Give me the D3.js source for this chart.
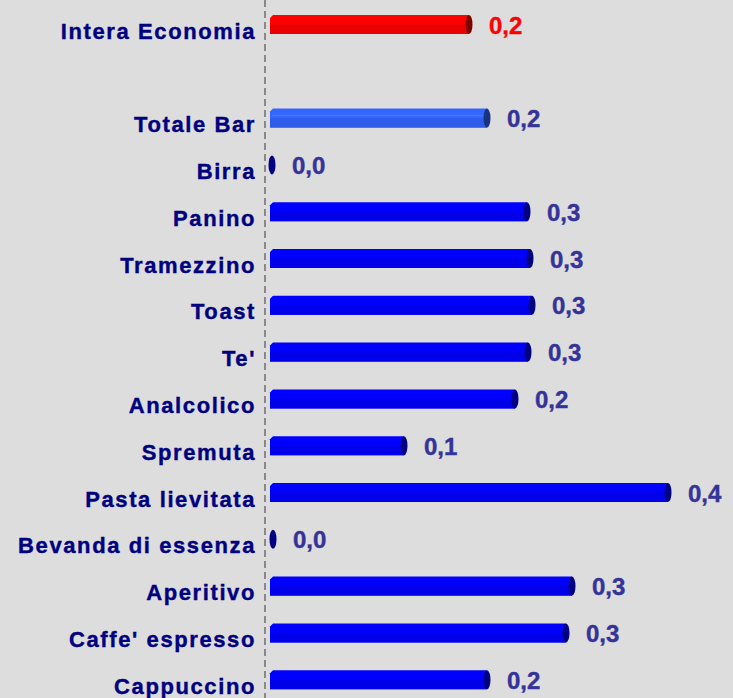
<!DOCTYPE html>
<html>
<head>
<meta charset="utf-8">
<script src="https://cdn.jsdelivr.net/npm/d3@7"></script>
<style>
  html, body { margin: 0; padding: 0; background: #dddddd; }
  svg { display: block; }
</style>
</head>
<body>
<script>
// Chart data
const categories = ["Intera Economia", "Totale Bar", "Birra", "Panino", "Tramezzino", "Toast", "Te'",
                    "Analcolico", "Spremuta", "Pasta lievitata", "Bevanda di essenza", "Aperitivo",
                    "Caffe' espresso", "Cappuccino"];
const values = [0.199, 0.217, 0.002, 0.257, 0.26, 0.262, 0.258, 0.245, 0.134, 0.398, 0.003, 0.302, 0.296, 0.217];
const valueLabels = ["0,2", "0,2", "0,0", "0,3", "0,3", "0,3", "0,3", "0,2", "0,1", "0,4", "0,0", "0,3", "0,3", "0,2"];

const width = 733;
const height = 698;

const svg = d3.select("body")
              .append("svg")
              .attr("width", width)
              .attr("height", height);

svg.append("rect")
   .attr("width", width)
   .attr("height", height)
   .attr("fill", "#dddddd");

// gap slot between "Intera Economia" and the rest
const slots = [categories[0], "__gap", ...categories.slice(1)];
const y = d3.scalePoint()
            .domain(slots)
            .range([24.5, 24.5 + 14 * 46.8]);

const x = d3.scaleLinear()
            .domain([0, 0.4])
            .range([270, 670]);

// dashed axis line
svg.append("line")
   .attr("x1", 265).attr("x2", 265)
   .attr("y1", 0).attr("y2", height)
   .attr("stroke", "#6e6e6e")
   .attr("stroke-width", 1.5)
   .attr("stroke-dasharray", "7,4");

function baseColor(i) {
  if (i === 0) return "#ff0000";
  if (i === 1) return "#3366ff";
  return "#0000ff";
}
function capColor(i) {
  if (i === 0) return "#800000";
  if (i === 1) return "#1a3380";
  return "#000080";
}
function textColor(i) {
  return i === 0 ? "#ff0000" : "#333399";
}

const barH = 19;
const rows = categories.map((c, i) => ({ c, v: values[i], label: valueLabels[i], i }));

const g = svg.append("g")
             .selectAll("g")
             .data(rows)
             .enter().append("g");

// main body with a clipped top-left corner
g.filter(d => d.v > 0.01)
 .append("path")
 .attr("d", d => {
   const x0 = x(0), x1 = x(d.v), t = y(d.c) - barH / 2, b = y(d.c) + barH / 2;
   return `M${x0},${t + 3}L${x0 + 3},${t}L${x1},${t}L${x1},${b}L${x0},${b}Z`;
 })
 .attr("fill", d => baseColor(d.i));

// darker lower half
g.filter(d => d.v > 0.01)
 .append("rect")
 .attr("x", x(0))
 .attr("y", d => y(d.c))
 .attr("width", d => x(d.v) - x(0))
 .attr("height", barH / 2)
 .attr("fill", d => d3.color(baseColor(d.i)).darker(0.25));

// highlight line
g.filter(d => d.v > 0.01)
 .append("line")
 .attr("x1", x(0) + 2)
 .attr("x2", d => x(d.v))
 .attr("y1", d => y(d.c) - 2.5)
 .attr("y2", d => y(d.c) - 2.5)
 .attr("stroke", d => d3.color(baseColor(d.i)).brighter(0.6))
 .attr("stroke-width", 1);

// end cap
g.append("ellipse")
 .attr("cx", d => x(d.v))
 .attr("cy", d => y(d.c))
 .attr("rx", 3.5)
 .attr("ry", barH / 2)
 .attr("fill", d => capColor(d.i));

// category labels
svg.append("g")
   .selectAll("text")
   .data(rows)
   .enter().append("text")
   .attr("x", 256)
   .attr("y", d => y(d.c) + 14)
   .attr("text-anchor", "end")
   .attr("font-family", "'Liberation Sans', Arial, sans-serif")
   .attr("font-weight", "bold")
   .attr("font-size", 22)
   .attr("letter-spacing", 1.6)
   .attr("fill", "#000080")
   .attr("stroke", "#000080")
   .attr("stroke-width", 0.4)
   .text(d => d.c);

// value labels
svg.append("g")
   .selectAll("text")
   .data(rows)
   .enter().append("text")
   .attr("x", d => x(d.v) + 20)
   .attr("y", d => y(d.c) + 9)
   .attr("font-family", "'Liberation Sans', Arial, sans-serif")
   .attr("font-weight", "bold")
   .attr("font-size", 24)
   .attr("fill", d => textColor(d.i))
   .attr("stroke", d => textColor(d.i))
   .attr("stroke-width", 0.4)
   .text(d => d.label);
</script>
</body>
</html>
